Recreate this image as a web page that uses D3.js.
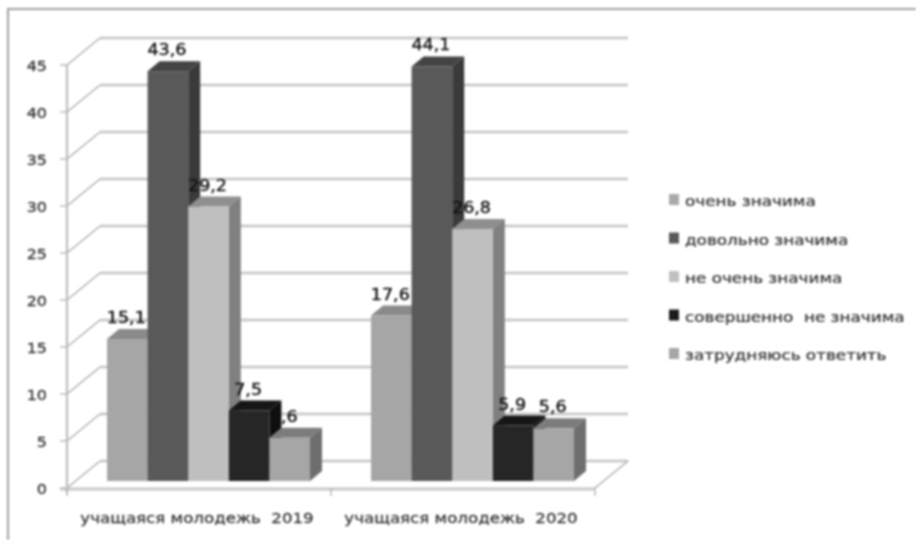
<!DOCTYPE html>
<html><head><meta charset="utf-8">
<script src="https://cdn.jsdelivr.net/npm/d3@7"></script>
<style>
html,body{margin:0;padding:0;background:#fff;overflow:hidden}
svg{display:block;filter:blur(1px)}
text{font-family:"DejaVu Sans",sans-serif}
</style></head><body><div id="c"></div>
<script>
const categories = ["учащаяся молодежь  2019", "учащаяся молодежь  2020"];
const seriesNames = ["очень значима", "довольно значима", "не очень значима", "совершенно  не значима", "затрудняюсь ответить"];
const values2019 = [15.1, 43.6, 29.2, 7.5, 4.6];
const values2020 = [17.6, 44.1, 26.8, 5.9, 5.6];
const yTicks = [0, 5, 10, 15, 20, 25, 30, 35, 40, 45];
const frontColors = ["#a6a6a6", "#595959", "#bfbfbf", "#262626", "#a6a6a6"];
const topColors   = ["#8a8a8a", "#444444", "#8f8f8f", "#161616", "#7c7c7c"];
const sideColors  = ["#6f6f6f", "#3a3a3a", "#808080", "#0e0e0e", "#6e6e6e"];
const swatchColors = ["#a9a9a9", "#595959", "#c0c0c0", "#1c1c1c", "#a6a6a6"];

const W = 916, H = 540;
const svg = d3.select("#c").append("svg").attr("width", W).attr("height", H).attr("viewBox", `0 0 ${W} ${H}`);
svg.append("rect").attr("width", W).attr("height", H).attr("fill", "#fff");
svg.append("path").attr("d", "M8,545V9H921").attr("fill", "none").attr("stroke", "#a0a0a0").attr("stroke-width", 2);

const wallDx = 33, wallDy = -27;
const y = d3.scaleLinear().domain([0, 45]).range([488, 65]);
const xCat = d3.scaleBand().domain(categories).range([67, 595]);
const xSer = d3.scaleBand().domain(d3.range(5)).range([40, 243]);
const barBase = -7, depthX = 12, depthY = -10;

const g = svg.append("g");
yTicks.forEach(t => {
  const yy = y(t);
  g.append("path").attr("d", `M${67 + wallDx},${yy + wallDy}H${595 + wallDx}`).attr("stroke", "#c4c4c4").attr("stroke-width", 2.6).attr("fill", "none");
  g.append("path").attr("d", `M67,${yy}L${67 + wallDx},${yy + wallDy}`).attr("stroke", "#a8a8a8").attr("stroke-width", 1.2).attr("fill", "none");
  g.append("path").attr("d", `M60,${yy}H67`).attr("stroke", "#a8a8a8").attr("stroke-width", 1.2);
  g.append("text").attr("transform", `translate(47,${yy + 2}) scale(1.1,1)`).attr("text-anchor", "end").attr("dominant-baseline", "middle")
    .attr("font-size", 14.5).attr("fill", "#333").attr("stroke", "#333").attr("stroke-width", 0.3).text(t);
});
g.append("path").attr("d", `M595,${y(0)}L${595 + wallDx},${y(0) + wallDy}`).attr("stroke", "#a8a8a8").attr("stroke-width", 1.2).attr("fill", "none");
g.append("path").attr("d", `M67,${y(45)}V${y(0) + 5}`).attr("stroke", "#bcbcbc").attr("stroke-width", 2.2).attr("fill", "none");
g.append("path").attr("d", `M60,${y(0) + 1}H595`).attr("stroke", "#c8c8c8").attr("stroke-width", 2.8).attr("fill", "none");
[67, xCat(categories[1]), 595].forEach(x => g.append("path").attr("d", `M${x},${y(0)}v8`).attr("stroke", "#a8a8a8").attr("stroke-width", 1.2));

const baseY = y(0) + barBase;
const labels = [];
[values2019, values2020].forEach((vals, ci) => {
  const x0 = xCat(categories[ci]);
  vals.forEach((v, i) => {
    const xL = x0 + xSer(i), bw = xSer.bandwidth();
    const top = baseY - (y(0) - y(v));
    const bar = g.append("g");
    bar.append("polygon").attr("fill", topColors[i])
      .attr("points", [[xL, top], [xL + depthX, top + depthY], [xL + bw + depthX, top + depthY], [xL + bw, top]].join(" "));
    bar.append("polygon").attr("fill", sideColors[i])
      .attr("points", [[xL + bw, top], [xL + bw + depthX, top + depthY], [xL + bw + depthX, baseY + depthY], [xL + bw, baseY]].join(" "));
    bar.append("rect").attr("x", xL).attr("y", top).attr("width", bw).attr("height", baseY - top).attr("fill", frontColors[i]);
    labels.push({ x: xL + bw / 2 - (ci === 0 && i === 4 ? 6 : 1), y: top + depthY - 6, t: String(v).replace(".", ",") });
  });
});
labels.forEach(l => g.append("text").attr("transform", `translate(${l.x},${l.y}) scale(1.17,1)`).attr("text-anchor", "middle")
  .attr("font-size", 15).attr("fill", "#111").attr("stroke", "#111").attr("stroke-width", 0.35).text(l.t));

categories.forEach(c => svg.append("text").attr("transform", `translate(${xCat(c) + xCat.bandwidth() / 2 - 2},523) scale(1.19,1)`)
  .attr("text-anchor", "middle").attr("font-size", 14).attr("fill", "#333").attr("stroke", "#333").attr("stroke-width", 0.25).style("white-space", "pre").text(c));

seriesNames.forEach((n, i) => {
  const ly = d3.scalePoint().domain(d3.range(5)).range([200, 354])(i);
  svg.append("rect").attr("x", 669).attr("y", ly - 6).attr("width", 10).attr("height", 11).attr("fill", swatchColors[i]);
  svg.append("text").attr("transform", `translate(685,${ly + 6}) scale(1.2,1)`).attr("font-size", 14).attr("fill", "#333").attr("stroke", "#333").attr("stroke-width", 0.25).style("white-space", "pre").text(n);
});
</script></body></html>
